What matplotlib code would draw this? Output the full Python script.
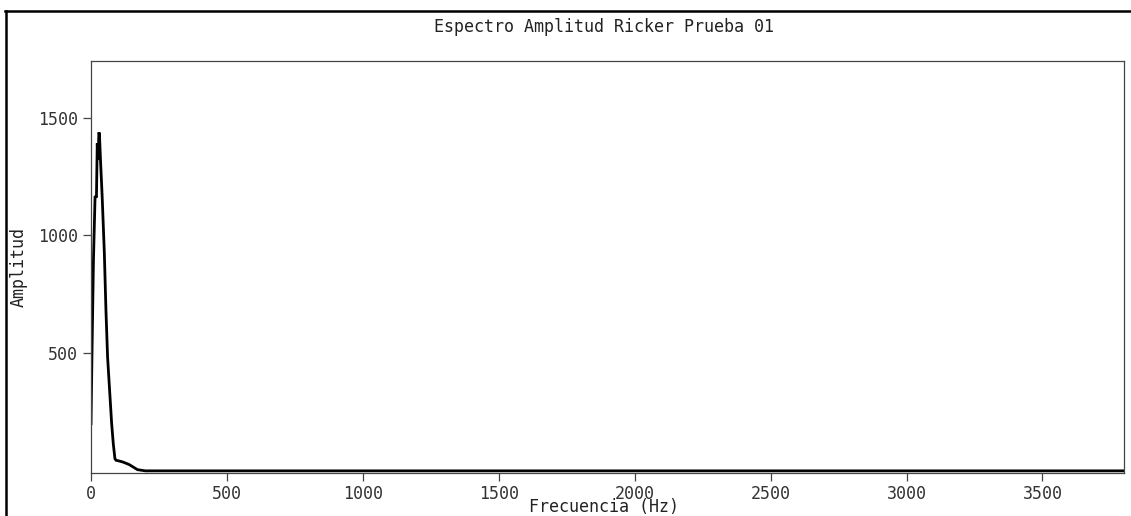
import numpy as np
import matplotlib.pyplot as plt
from matplotlib.lines import Line2D

# Amplitude spectrum of the Ricker test wavelet (values read per bin)
freq = [0, 4, 9, 15, 20, 23, 26, 29, 31, 35, 41, 49, 55, 61, 70, 76,
        82, 88, 92, 103, 116, 140, 171, 200, 500, 1000, 2000, 3000, 3800]
amp = [200, 527, 893, 1167, 1160, 1390, 1320, 1437, 1430, 1317, 1167, 928,
       681, 483, 313, 200, 115, 52, 45, 42, 38, 27, 5, 0, 0, 0, 0, 0, 0]

xticks = [0, 500, 1000, 1500, 2000, 2500, 3000, 3500]
yticks = [500, 1000, 1500]

mono = "DejaVu Sans Mono"
fs = 12

fig = plt.figure(figsize=(11.31, 5.16), dpi=100)
W, H = 1131, 516
ax = fig.add_axes([91 / W, 1 - 472.5 / H, (1124 - 91) / W, (472.5 - 61) / H])

ax.plot(freq, amp, color="black", lw=2.0, solid_joinstyle="miter")

ax.set_xlim(0, 3800)
ax.set_ylim(-7, 1740)
ax.set_xticks(xticks)
ax.set_yticks(yticks)
ax.set_xticklabels([str(t) for t in xticks], fontfamily=mono, fontsize=fs, color="#333333")
ax.set_yticklabels([str(t) for t in yticks], fontfamily=mono, fontsize=fs, color="#333333")
ax.tick_params(direction="out", length=6, width=0.9, color="#444444")
ax.tick_params(axis="x", pad=3)
ax.tick_params(axis="y", pad=3.5)
for s in ax.spines.values():
    s.set_color("#444444")
    s.set_linewidth(0.9)

# title and axis labels
fig.text(604 / W, 1 - 27 / H, "Espectro Amplitud Ricker Prueba 01", ha="center", va="center",
         fontfamily=mono, fontsize=fs, color="#222222")
fig.text(604 / W, 1 - 506.5 / H, "Frecuencia (Hz)", ha="center", va="center",
         fontfamily=mono, fontsize=fs, color="#222222")
fig.text(19 / W, 1 - 267 / H, "Amplitud", ha="center", va="center", rotation=90,
         fontfamily=mono, fontsize=fs, color="#222222")

# outer frame (top and left edges)
fig.add_artist(Line2D([5 / W, 1], [1 - 11 / H, 1 - 11 / H], color="black", lw=1.8,
                      transform=fig.transFigure))
fig.add_artist(Line2D([5.5 / W, 5.5 / W], [0, 1 - 11 / H], color="black", lw=1.8,
                      transform=fig.transFigure))

fig.savefig("out.png", dpi=100)
